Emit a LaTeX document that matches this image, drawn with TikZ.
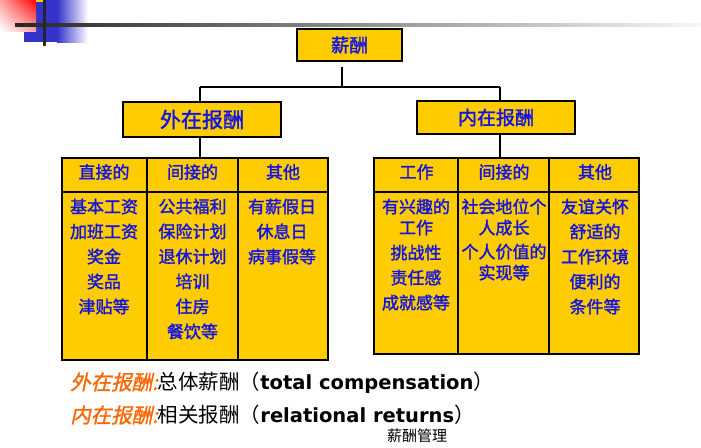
\documentclass[tikz,border=0pt]{standalone}
\usepackage{fontspec}
\usetikzlibrary{shadings}
\setmainfont{Noto Sans CJK SC}
\newfontfamily\cjk{Noto Sans CJK SC}
\newfontfamily\cjkheavy{Noto Sans CJK SC}[FakeBold=1.6]
\newfontfamily\cjkslant[FakeSlant=0.22,FakeBold=1.2]{Noto Sans CJK SC}
\newfontfamily\latinbold{DejaVu Sans Bold}
\definecolor{boxyellow}{RGB}{255,204,0}
\definecolor{textblue}{RGB}{20,20,225}
\definecolor{decoblue}{RGB}{51,51,204}
\definecolor{accent}{RGB}{255,102,0}
\begin{document}
\begin{tikzpicture}[x=1pt,y=-1pt,
  box/.style={draw=black, line width=1.3pt, fill=boxyellow, text=textblue, inner sep=0pt},
  wire/.style={line width=1.3pt},
  divider/.style={line width=1.3pt},
  tbl/.style={draw=black, line width=2.3pt, fill=boxyellow, inner sep=0pt, anchor=north west},
  head/.style={text=textblue, font=\cjkheavy\fontsize{17}{20}\selectfont, inner sep=0pt},
  cellL/.style={text=textblue, font=\cjkheavy\fontsize{17}{25}\selectfont, align=center, inner sep=0pt, anchor=north},
  cellR/.style={text=textblue, font=\cjkheavy\fontsize{17}{21}\selectfont, align=center, inner sep=0pt, anchor=north},
  note/.style={anchor=west, inner sep=0pt, font=\cjk\fontsize{20.5}{24}\selectfont},
]
\useasboundingbox (0,0) rectangle (701,447);

% corner ornament
\fill[decoblue] (24,0) rectangle (57,42);
\shade[left color=decoblue, right color=white] (57,0) rectangle (88,42);
\shade[upper left=red!35, upper right=red, lower left=white, lower right=red!35] (0,0) rectangle (36,31);
\fill[boxyellow] (36,0) rectangle (45,1.5);
\shade[left color=black!85, right color=black!3] (15,23.8) rectangle (701,26.3);
\fill[black!85] (42.8,0) rectangle (45.5,46);

% top level boxes
\node[box, minimum width=105pt, minimum height=32pt, font=\cjkheavy\fontsize{18.5}{20}\selectfont] (sal) at (349.5,45) {薪酬};
\node[box, minimum width=158pt, minimum height=35pt, font=\cjkheavy\fontsize{21}{24}\selectfont] (ext) at (202,119.5) {外在报酬};
\node[box, minimum width=158pt, minimum height=33pt, font=\cjkheavy\fontsize{19}{22}\selectfont] (int) at (496,117.5) {内在报酬};

% tables
\node[tbl, minimum width=266pt, minimum height=202pt] (tabL) at (61,157) {};
\node[tbl, minimum width=265pt, minimum height=196pt] (tabR) at (373,157) {};
\draw[divider] (61,192) -- (327,192);
\draw[divider] (147,157) -- (147,359);
\draw[divider] (238,157) -- (238,359);
\draw[divider] (373,192) -- (638,192);
\draw[divider] (458,157) -- (458,353);
\draw[divider] (549,157) -- (549,353);

% connectors
\coordinate (hub) at (342,67);
\coordinate (busM) at (342,87);
\coordinate (busL) at (200,87);
\coordinate (busR) at (500,87);
\draw[wire] (hub) -- (busM);
\draw[wire] (busL) -- (busR);
\draw[wire] (busL) -- (busL |- ext.north);
\draw[wire] (busR) -- (busR |- int.north);
\draw[wire] (busL |- ext.south) -- (busL |- tabL.north);
\draw[wire] (busR |- int.south) -- (busR |- tabR.north);

% left table text
\node[head] (hL1) at (104,172) {直接的};
\node[head] (hL2) at (192.5,172) {间接的};
\node[head] (hL3) at (283,172) {其他};
\node[cellL] (cL1) at (104,198.5) {基本工资\\加班工资\\奖金\\奖品\\津贴等};
\node[cellL] (cL2) at (192.5,198.5) {公共福利\\保险计划\\退休计划\\培训\\住房\\餐饮等};
\node[cellL] (cL3) at (282,198.5) {有薪假日\\休息日\\病事假等};

% right table text
\node[head] (hR1) at (416.5,172) {工作};
\node[head] (hR2) at (504,172) {间接的};
\node[head] (hR3) at (595,172) {其他};
\node[cellR] (cR1) at (416,198.5) {有兴趣的\\工作\\[4pt]挑战性\\[4pt]责任感\\[4pt]成就感等};
\node[cellR] (cR2) at (504,198.5) {社会地位个\\人成长\\[3pt]个人价值的\\实现等};
\node[cellR] (cR3) at (595,198.5) {友谊关怀\\[4pt]舒适的\\[4pt]工作环境\\[4pt]便利的\\[4pt]条件等};

% notes
\node[note] (n1) at (70,383) {{\cjkslant\color{accent}外在报酬:}总体薪酬（{\latinbold\fontsize{19.5}{24}\selectfont total compensation}）};
\node[note] (n2) at (70,415) {{\cjkslant\color{accent}内在报酬:}相关报酬（{\latinbold\fontsize{19.5}{24}\selectfont relational returns}）};
\node[inner sep=0pt, font=\cjk\fontsize{15}{18}\selectfont] (foot) at (417,436) {薪酬管理};
\end{tikzpicture}
\end{document}
